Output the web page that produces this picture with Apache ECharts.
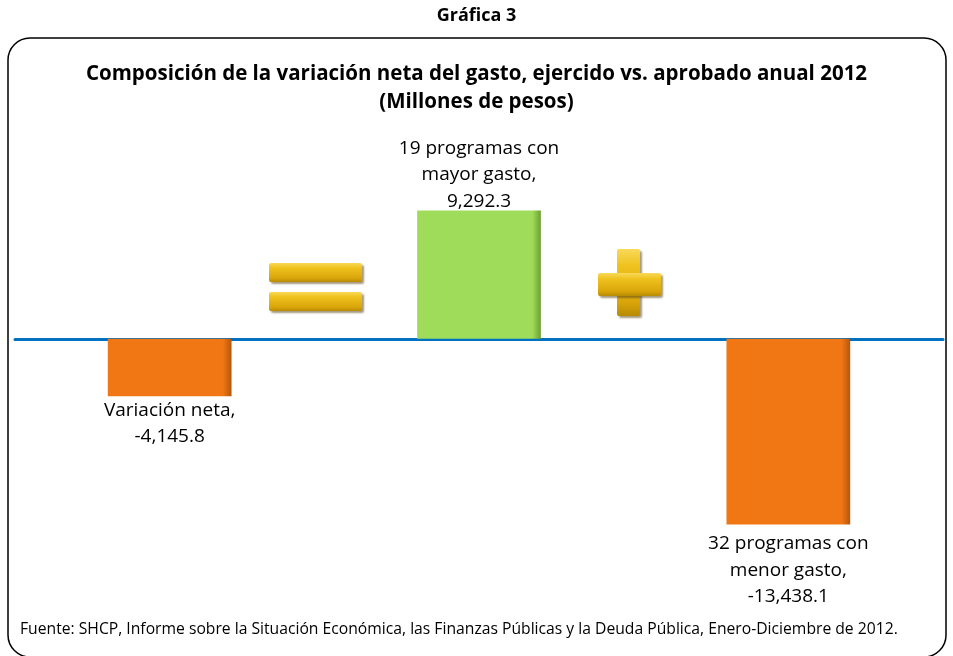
<!DOCTYPE html>
<html>
<head>
<meta charset="utf-8">
<script src="https://cdn.jsdelivr.net/npm/echarts@6/dist/echarts.min.js"></script>
<style>
html,body{margin:0;padding:0;background:#fff;}
#c{width:953px;height:656px;}
</style>
</head>
<body>
<div id="c"></div>
<script>
var categories = ["Variación neta", "19 programas con mayor gasto", "32 programas con menor gasto"];
var labelNames = ["Variación neta,", "19 programas con\nmayor gasto,", "32 programas con\nmenor gasto,"];
var values = [-4145.8, 9292.3, -13438.1];
var barColors = ["#F07714", "#9FDC5A", "#F07714"];
var yMin = -16000, yMax = 12000;

function fmt(v) {
  var s = Math.abs(v).toFixed(1).split(".");
  var i = s[0].replace(/\B(?=(\d{3})+(?!\d))/g, ",");
  return (v < 0 ? "-" : "") + i + "." + s[1];
}

var FONT = '"Open Sans", sans-serif';
var labelDist = [1, -4, 6];

var data = values.map(function (v, i) {
  var dark = barColors[i] === "#9FDC5A" ? "#6E9E35" : "#B5560C";
  return {
    value: v,
    itemStyle: {
      color: {
        type: 'linear', x: 0, y: 0, x2: 1, y2: 0,
        colorStops: [
          {offset: 0, color: barColors[i]},
          {offset: 0.93, color: barColors[i]},
          {offset: 1, color: dark}
        ]
      }
    },
    label: {
      position: v >= 0 ? 'top' : 'bottom',
      distance: labelDist[i],
      formatter: labelNames[i] + "\n" + fmt(v)
    }
  };
});

var gold = {
  type: 'linear', x: 0, y: 0, x2: 0, y2: 1,
  colorStops: [
    {offset: 0, color: '#F8D95A'},
    {offset: 0.25, color: '#EFC21E'},
    {offset: 0.8, color: '#D9A50A'},
    {offset: 1, color: '#B88A05'}
  ]
};
var goldShadow = {shadowColor: 'rgba(90,70,20,0.55)', shadowBlur: 2, shadowOffsetX: 2, shadowOffsetY: 2};

var chart = echarts.init(document.getElementById('c'));
chart.setOption({
  animation: false,
  backgroundColor: '#fff',
  textStyle: {fontFamily: FONT},
  title: [
    {text: 'Gráfica 3', left: 'center', top: 2,
     textStyle: {fontFamily: FONT, fontWeight: 'bold', fontSize: 18, color: '#000'}},
    {text: 'Composición de la variación neta del gasto, ejercido vs. aprobado anual 2012\n(Millones de pesos)',
     left: 'center', top: 55,
     textStyle: {fontFamily: FONT, fontWeight: 'bold', fontSize: 20.5, lineHeight: 28, color: '#000'}}
  ],
  grid: {left: 15, right: 10, top: 173, bottom: 96},
  xAxis: {
    type: 'category',
    data: categories,
    axisLine: {show: true, onZero: true, lineStyle: {color: '#0070C0', width: 3}},
    axisTick: {show: false},
    axisLabel: {show: false},
    splitLine: {show: false}
  },
  yAxis: {
    type: 'value', min: yMin, max: yMax, show: false,
    splitLine: {show: false}
  },
  series: [{
    type: 'bar',
    data: data,
    barWidth: '40%',
    z: 1,
    label: {
      show: true,
      fontFamily: FONT,
      fontSize: 19,
      lineHeight: 26.5,
      color: '#000',
      align: 'center'
    }
  }],
  graphic: [
    {type: 'rect', shape: {x: 8, y: 38, width: 938, height: 619, r: 22},
     style: {fill: 'none', stroke: '#000', lineWidth: 1.5}, silent: true},
    {type: 'text', left: 20, top: 622,
     style: {text: 'Fuente: SHCP, Informe sobre la Situación Económica, las Finanzas Públicas y la Deuda Pública, Enero-Diciembre de 2012.',
             font: '15.7px "Open Sans", sans-serif', fill: '#000'}},
    {type: 'rect', shape: {x: 269, y: 263, width: 93, height: 19, r: 2},
     style: Object.assign({fill: gold}, goldShadow)},
    {type: 'rect', shape: {x: 269, y: 292, width: 93, height: 19, r: 2},
     style: Object.assign({fill: gold}, goldShadow)},
    {type: 'rect', shape: {x: 617, y: 249, width: 23, height: 67, r: 2},
     style: Object.assign({fill: gold}, goldShadow)},
    {type: 'rect', shape: {x: 598, y: 273, width: 63, height: 23, r: 2},
     style: Object.assign({fill: gold}, goldShadow)}
  ]
});
</script>
</body>
</html>
